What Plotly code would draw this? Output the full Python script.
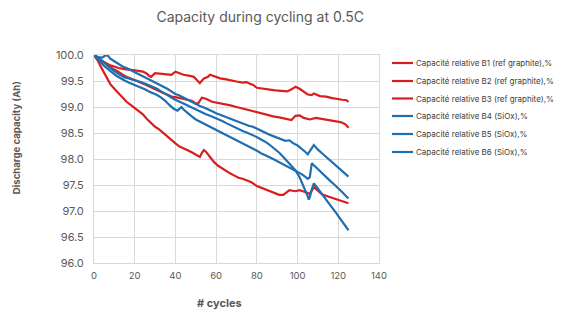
import plotly.graph_objects as go

names = [
    "Capacité relative B1 (ref graphite),%",
    "Capacité relative B2 (ref graphite),%",
    "Capacité relative B3 (ref graphite),%",
    "Capacité relative B4 (SiOx),%",
    "Capacité relative B5 (SiOx),%",
    "Capacité relative B6 (SiOx),%",
]
colors = ["#D91E1E", "#D91E1E", "#D91E1E", "#1F6EB0", "#1F6EB0", "#1F6EB0"]

b1_x = [0, 1, 2, 4, 6, 8, 10, 12, 15, 18, 21, 24, 26, 27, 28, 30, 33, 36, 38, 40, 42, 44, 47, 49, 51, 52, 54, 56, 57,
        60, 62, 65, 68, 70, 73, 75, 77, 78, 80, 83, 86, 89, 92, 95, 97, 99, 101, 103, 105, 107, 108, 111, 114, 117,
        120, 122, 124, 125]
b1_y = [100, 99.97, 99.93, 99.88, 99.84, 99.80, 99.78, 99.75, 99.73, 99.72, 99.70, 99.68, 99.64, 99.60, 99.58, 99.65,
        99.64, 99.63, 99.62, 99.68, 99.65, 99.62, 99.60, 99.58, 99.50, 99.46, 99.55, 99.58, 99.62, 99.58, 99.55,
        99.53, 99.50, 99.49, 99.47, 99.48, 99.44, 99.43, 99.37, 99.35, 99.33, 99.32, 99.31, 99.30, 99.34, 99.39,
        99.35, 99.30, 99.24, 99.23, 99.26, 99.21, 99.20, 99.17, 99.16, 99.14, 99.13, 99.10]

b2_x = [0, 2, 4, 6, 8, 10, 12, 14, 16, 18, 20, 22, 24, 26, 28, 30, 32, 34, 36, 38, 40, 42, 44, 46, 48, 50, 51, 53, 55,
        58, 61, 64, 67, 70, 73, 76, 79, 82, 85, 88, 91, 94, 97, 99, 101, 103, 106, 109, 112, 115, 118, 121, 123,
        124, 125]
b2_y = [100, 99.94, 99.88, 99.82, 99.77, 99.72, 99.67, 99.62, 99.58, 99.55, 99.52, 99.49, 99.46, 99.42, 99.38, 99.34,
        99.31, 99.27, 99.24, 99.20, 99.19, 99.17, 99.16, 99.13, 99.12, 99.07, 99.06, 99.18, 99.16, 99.10, 99.08,
        99.05, 99.03, 99.00, 98.97, 98.94, 98.91, 98.87, 98.84, 98.82, 98.80, 98.77, 98.75, 98.83, 98.84, 98.79,
        98.76, 98.79, 98.77, 98.74, 98.72, 98.71, 98.68, 98.65, 98.60]

b3_x = [0, 1, 2, 3, 4, 5, 6, 7, 8, 10, 12, 14, 16, 18, 20, 22, 24, 26, 28, 30, 32, 34, 36, 38, 40, 42, 44, 46, 48, 50,
        52, 53, 54, 55, 57, 59, 61, 63, 65, 67, 69, 71, 73, 75, 77, 80, 84, 87, 91, 93, 96, 99, 101, 104, 106, 108,
        110, 112, 115, 118, 121, 123, 125]
b3_y = [100, 99.95, 99.88, 99.80, 99.73, 99.64, 99.57, 99.50, 99.44, 99.35, 99.26, 99.17, 99.10, 99.04, 98.98, 98.93,
        98.86, 98.77, 98.70, 98.62, 98.57, 98.50, 98.43, 98.36, 98.30, 98.24, 98.21, 98.17, 98.13, 98.08, 98.04,
        98.12, 98.17, 98.14, 98.03, 97.94, 97.87, 97.82, 97.76, 97.72, 97.68, 97.64, 97.62, 97.59, 97.56, 97.48,
        97.42, 97.37, 97.31, 97.31, 97.40, 97.38, 97.40, 97.36, 97.33, 97.46, 97.38, 97.32, 97.28, 97.24, 97.21,
        97.18, 97.15]

b4_x = [0, 2, 4, 5, 6, 7, 8, 10, 12, 14, 16, 18, 20, 22, 24, 26, 28, 30, 32, 34, 36, 38, 40, 42, 44, 46, 48, 50, 52,
        54, 56, 58, 60, 62, 64, 66, 68, 70, 72, 74, 76, 78, 80, 82, 84, 86, 88, 90, 92, 94, 96, 98, 100, 102, 104,
        105, 106, 107, 108, 109, 110, 112, 114, 116, 118, 120, 122, 124, 125]
b4_y = [100, 99.96, 99.95, 99.98, 100.0, 99.98, 99.93, 99.88, 99.83, 99.78, 99.75, 99.71, 99.67, 99.64, 99.60, 99.56,
        99.52, 99.48, 99.44, 99.40, 99.35, 99.30, 99.25, 99.22, 99.18, 99.13, 99.09, 99.05, 99.02, 98.99, 98.96,
        98.92, 98.88, 98.85, 98.82, 98.79, 98.76, 98.72, 98.69, 98.67, 98.64, 98.62, 98.58, 98.55, 98.51, 98.47,
        98.44, 98.41, 98.38, 98.35, 98.36, 98.30, 98.26, 98.20, 98.13, 98.09, 98.14, 98.21, 98.27, 98.22, 98.18,
        98.11, 98.04, 97.97, 97.90, 97.84, 97.77, 97.70, 97.66]

b5_x = [0, 1, 3, 5, 7, 9, 11, 13, 15, 17, 19, 21, 23, 25, 27, 29, 31, 33, 35, 37, 39, 41, 43, 45, 47, 49, 51, 53, 55,
        57, 59, 61, 63, 65, 67, 69, 71, 73, 75, 77, 79, 81, 83, 85, 87, 89, 91, 93, 95, 97, 99, 101, 103, 104, 105,
        105.5, 106, 107, 108, 109, 111, 113, 115, 117, 119, 121, 123, 125]
b5_y = [100, 99.96, 99.92, 99.85, 99.79, 99.72, 99.66, 99.61, 99.57, 99.55, 99.53, 99.51, 99.48, 99.45, 99.42, 99.39,
        99.35, 99.30, 99.25, 99.20, 99.16, 99.12, 99.09, 99.05, 99.01, 98.97, 98.93, 98.89, 98.86, 98.83, 98.80,
        98.76, 98.73, 98.69, 98.65, 98.61, 98.57, 98.54, 98.51, 98.48, 98.44, 98.40, 98.36, 98.31, 98.25, 98.19,
        98.12, 98.04, 97.96, 97.88, 97.78, 97.65, 97.48, 97.38, 97.28, 97.22, 97.26, 97.42, 97.53, 97.48, 97.38,
        97.28, 97.17, 97.06, 96.96, 96.85, 96.74, 96.63]

b6_x = [0, 1, 3, 5, 7, 9, 11, 13, 15, 17, 19, 21, 23, 25, 27, 29, 31, 33, 35, 37, 39, 41, 42, 43, 44, 46, 48, 50, 52,
        54, 56, 58, 60, 62, 64, 66, 68, 70, 72, 74, 76, 78, 80, 82, 84, 86, 88, 90, 92, 94, 96, 98, 100, 102, 104,
        105, 106, 107, 108, 110, 112, 114, 116, 118, 120, 122, 124, 125]
b6_y = [100, 99.95, 99.87, 99.79, 99.72, 99.66, 99.60, 99.55, 99.51, 99.47, 99.44, 99.41, 99.38, 99.34, 99.30, 99.27,
        99.23, 99.18, 99.12, 99.04, 98.97, 98.93, 98.97, 99.00, 98.95, 98.88, 98.82, 98.76, 98.72, 98.68, 98.65,
        98.61, 98.57, 98.53, 98.49, 98.45, 98.41, 98.37, 98.33, 98.29, 98.25, 98.21, 98.16, 98.11, 98.08, 98.04,
        98.00, 97.96, 97.92, 97.88, 97.84, 97.80, 97.76, 97.71, 97.65, 97.62, 97.65, 97.92, 97.88, 97.80, 97.73,
        97.65, 97.58, 97.51, 97.44, 97.36, 97.28, 97.24]

series_x = [b1_x, b2_x, b3_x, b4_x, b5_x, b6_x]
series_y = [b1_y, b2_y, b3_y, b4_y, b5_y, b6_y]

x_ticks = [0, 20, 40, 60, 80, 100, 120, 140]
y_ticks = [96.0, 96.5, 97.0, 97.5, 98.0, 98.5, 99.0, 99.5, 100.0]

fig = go.Figure()
for nm, c, xs, ys in zip(names, colors, series_x, series_y):
    fig.add_trace(go.Scatter(x=xs, y=ys, name=nm, mode="lines",
                             line=dict(color=c, width=2.2), showlegend=False))

grid = "#D9D9D9"
fam = "Inter, Arial, sans-serif"
W, H = 562, 321
ML, MR, MT, MB = 94, 183, 55, 58
pw, ph = W - ML - MR, H - MT - MB

fig.update_layout(
    width=W, height=H,
    margin=dict(l=ML, r=MR, t=MT, b=MB, autoexpand=False),
    paper_bgcolor="white", plot_bgcolor="white",
    title=dict(text="Capacity during cycling at 0.5C", x=0.463, xanchor="center",
               y=0.947, yanchor="middle",
               font=dict(family=fam, size=14, color="#595959")),
    xaxis=dict(range=[0, 140], tickvals=x_ticks, showgrid=True, gridcolor=grid, gridwidth=1,
               showline=True, linecolor=grid, mirror=True, zeroline=False, ticks="",
               ticklabelstandoff=4, automargin=False,
               tickfont=dict(family=fam, size=9.5, color="#595959")),
    yaxis=dict(range=[96, 100], tickvals=y_ticks, tickformat=".1f", ticksuffix="%",
               showgrid=True, gridcolor=grid, gridwidth=1, showline=True, linecolor=grid,
               mirror=True, zeroline=False, ticks="", ticklabelstandoff=7, automargin=False,
               tickfont=dict(family=fam, size=11, color="#595959")),
    showlegend=False,
)

# custom legend (lines + labels) placed to the right of the plot area
def px_to_paper_x(px):
    return (px - ML) / pw

def px_to_paper_y(py):
    return (H - MB - py) / ph

legend_rows_px = [63, 81, 98.5, 116, 134, 152]
for nm, c, ry in zip(names, colors, legend_rows_px):
    yy = px_to_paper_y(ry)
    fig.add_shape(type="line", xref="paper", yref="paper",
                  x0=px_to_paper_x(392), x1=px_to_paper_x(413), y0=yy, y1=yy,
                  line=dict(color=c, width=2.2))
    fig.add_annotation(text=nm, xref="paper", yref="paper", x=px_to_paper_x(414), y=yy,
                       xanchor="left", yanchor="middle", showarrow=False,
                       font=dict(family=fam, size=8, color="#404040"))

fig.add_annotation(text="<b>Discharge capacity (Ah)</b>", xref="paper", yref="paper",
                   x=-0.27, y=0.60, xanchor="center", yanchor="middle", textangle=-90,
                   showarrow=False,
                   font=dict(family=fam, size=9.6, color="#595959"))
fig.add_annotation(text="<b># cycles</b>", xref="paper", yref="paper",
                   x=0.442, y=-0.192, xanchor="center", yanchor="middle", showarrow=False,
                   font=dict(family=fam, size=11, color="#595959"))

fig.write_html("out.html")
